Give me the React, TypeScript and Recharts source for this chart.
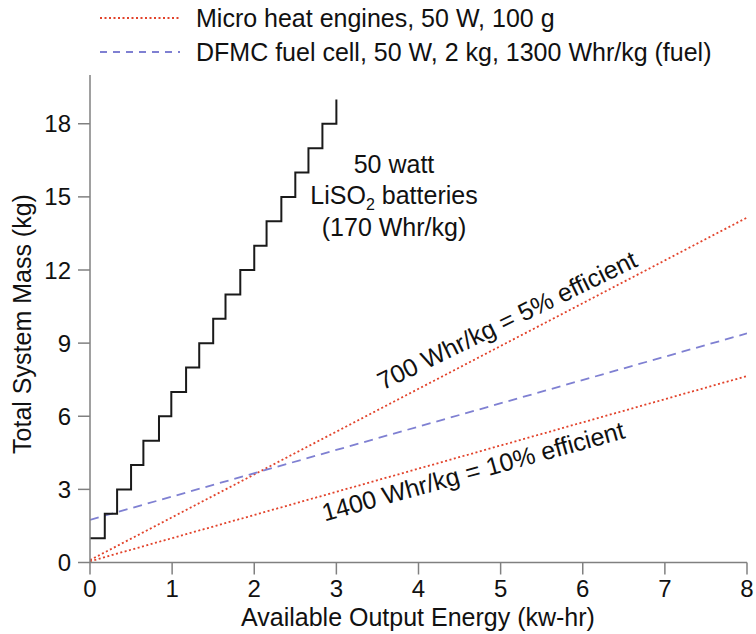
import React from 'react';
import { LineChart, Line, XAxis, YAxis, Legend, Label } from 'recharts';

// ---- data ----
const energyTicks = [0, 1, 2, 3, 4, 5, 6, 7, 8];
const massTicks = [0, 3, 6, 9, 12, 15, 18];

// 50 W LiSO2 batteries (170 Whr/kg): stair steps
const batteryEnergy = [0, 0.18, 0.33, 0.5, 0.65, 0.84, 0.99, 1.17, 1.33, 1.5, 1.65, 1.83, 2.0, 2.15, 2.33, 2.5, 2.66, 2.83, 3.0];
const batteryMass = [1, 2, 3, 4, 5, 6, 7, 8, 9, 10, 11, 12, 13, 14, 15, 16, 17, 18, 19];

// straight lines (end points)
const lineEnergy = [0, 8];
const heat5Mass = [0.1, 14.15];
const heat10Mass = [0.05, 7.65];
const fuelCellMass = [1.75, 9.4];

const heatName = 'Micro heat engines, 50 W, 100 g';
const fuelName = 'DFMC fuel cell, 50 W, 2 kg, 1300 Whr/kg (fuel)';

const RED = '#e2432b';
const BLUE = '#7f80d2';
const FONT = '"Liberation Sans", Arial, Helvetica, sans-serif';

const toRows = (xs: number[], ys: number[]) => xs.map((e, i) => ({ e, m: ys[i] }));
const batteryData = toRows(batteryEnergy, batteryMass);
const heat5Data = toRows(lineEnergy, heat5Mass);
const heat10Data = toRows(lineEnergy, heat10Mass);
const fuelData = toRows(lineEnergy, fuelCellMass);

const legendStyle: Record<string, { color: string; dash: string }> = {
  [heatName]: { color: RED, dash: '2 2.5' },
  [fuelName]: { color: BLUE, dash: '7 6' },
};
const legendOrder = [heatName, fuelName];

const renderLegend = (props: any) => {
  const items = (props.payload || [])
    .filter((p: any) => p.type !== 'none' && legendStyle[p.value])
    .sort((a: any, b: any) => legendOrder.indexOf(a.value) - legendOrder.indexOf(b.value));
  return (
    <svg width={756} height={75} style={{ display: 'block' }}>
      {items.map((p: any, i: number) => {
        const y = 18 + i * 34;
        const st = legendStyle[p.value];
        return (
          <g key={p.value}>
            <line x1={100} x2={180} y1={y} y2={y} stroke={st.color} strokeWidth={1.8} strokeDasharray={st.dash} />
            <text x={196} y={y} dominantBaseline="central" fontSize={25} fill="#111" fontFamily={FONT}>
              {p.value}
            </text>
          </g>
        );
      })}
    </svg>
  );
};

const YTitle = () => (
  <text x={31} y={324} transform="rotate(-90 31 324)" textAnchor="middle" fontSize={25} fill="#111" fontFamily={FONT}>
    Total System Mass (kg)
  </text>
);

const XTitle = () => (
  <text x={418} y={626} textAnchor="middle" fontSize={25} fill="#111" fontFamily={FONT}>
    Available Output Energy (kw-hr)
  </text>
);

export default function App() {
  return (
    <div style={{ position: 'absolute', left: 0, top: 0, width: 756, height: 634, background: '#fff', fontFamily: FONT }}>
      <LineChart width={756} height={634} margin={{ top: 75, right: 9, bottom: 0, left: 0 }}>
        <XAxis
          dataKey="e"
          type="number"
          domain={[0, 8]}
          ticks={energyTicks}
          allowDataOverflow
          height={71.5}
          tickSize={12}
          tickMargin={5}
          stroke="#808080"
          strokeWidth={1.5}
          tick={{ fontSize: 24, fill: '#111', fontFamily: FONT }}
        >
          <Label content={XTitle} />
        </XAxis>
        <YAxis
          dataKey="m"
          type="number"
          domain={[0, 20]}
          ticks={massTicks}
          allowDataOverflow
          width={90}
          tickSize={12}
          tickMargin={7}
          stroke="#808080"
          strokeWidth={1.5}
          tick={{ fontSize: 24, fill: '#111', fontFamily: FONT }}
        >
          <Label content={YTitle} />
        </YAxis>
        <Legend
          layout="vertical"
          align="center"
          verticalAlign="middle"
          wrapperStyle={{ position: 'absolute', top: 0, left: 0, width: 756, height: 75 }}
          content={renderLegend}
        />
        <Line data={heat5Data} dataKey="m" name={heatName} type="linear" stroke={RED} strokeWidth={1.8} strokeDasharray="2 2.5" dot={false} isAnimationActive={false} />
        <Line data={fuelData} dataKey="m" name={fuelName} type="linear" stroke={BLUE} strokeWidth={1.8} strokeDasharray="9 6" dot={false} isAnimationActive={false} />
        <Line data={heat10Data} dataKey="m" name="heat10" legendType="none" type="linear" stroke={RED} strokeWidth={1.8} strokeDasharray="2 2.5" dot={false} isAnimationActive={false} />
        <Line data={batteryData} dataKey="m" name="batteries" legendType="none" type="stepAfter" stroke="#1a1a1a" strokeWidth={2} dot={false} isAnimationActive={false} />
        <g fontFamily={FONT} fontSize={25} fill="#111">
          <text x={394} y={173} textAnchor="middle">50 watt</text>
          <text x={394} y={204} textAnchor="middle">
            LiSO<tspan dy={6} fontSize={16}>2</tspan><tspan dy={-6}> batteries</tspan>
          </text>
          <text x={394} y={236} textAnchor="middle">(170 Whr/kg)</text>
          <text x={507} y={320} textAnchor="middle" dominantBaseline="central" transform="rotate(-26 507 320)">700 Whr/kg = 5% efficient</text>
          <text x={473} y={471} textAnchor="middle" dominantBaseline="central" transform="rotate(-15.5 473 471)">1400 Whr/kg = 10% efficient</text>
        </g>
      </LineChart>
    </div>
  );
}
